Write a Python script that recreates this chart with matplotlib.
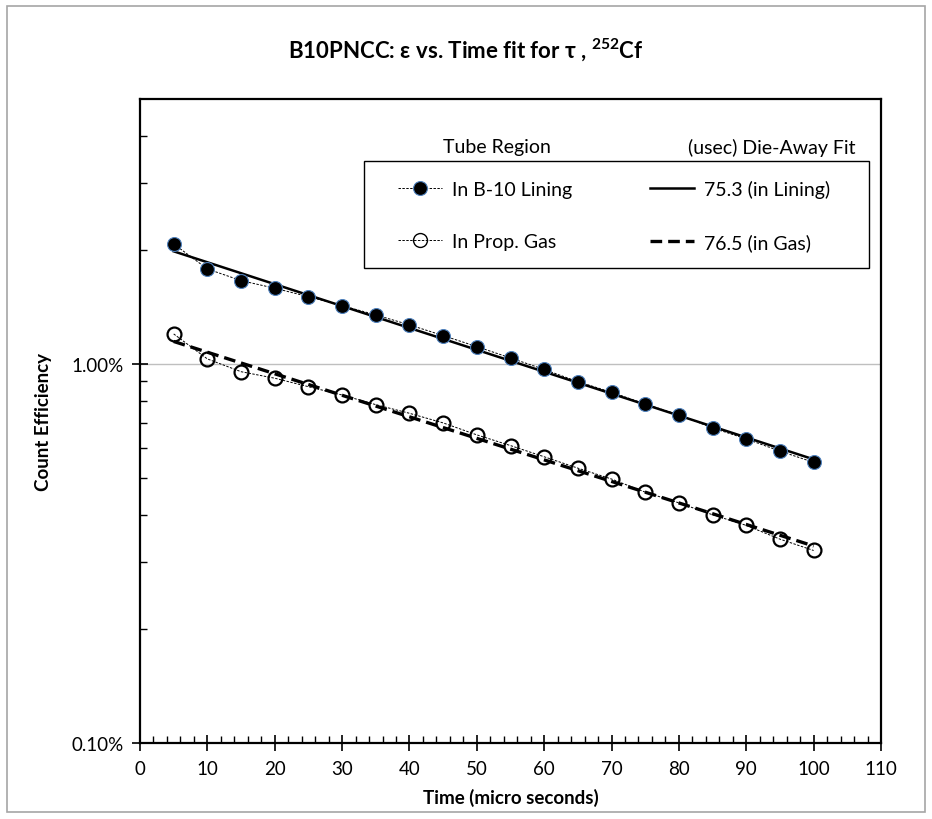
import numpy as np
import matplotlib
matplotlib.use("Agg")
import matplotlib.pyplot as plt
from matplotlib.lines import Line2D
from matplotlib.patches import Rectangle
from matplotlib.ticker import FixedLocator, NullFormatter

plt.rcParams['font.family'] = ['Lato', 'DejaVu Sans']
plt.rcParams['mathtext.fontset'] = 'custom'
plt.rcParams['mathtext.rm'] = 'Lato'
plt.rcParams['mathtext.bf'] = 'Lato:bold'

# Time points (micro seconds)
time_us = [5, 10, 15, 20, 25, 30, 35, 40, 45, 50,
           55, 60, 65, 70, 75, 80, 85, 90, 95, 100]

# Count efficiency (%)
eff_lining = [2.073, 1.781, 1.659, 1.584, 1.505, 1.425, 1.347, 1.268, 1.188, 1.111,
              1.037, 0.967, 0.898, 0.842, 0.784, 0.734, 0.678, 0.634, 0.589, 0.550]
eff_gas = [1.200, 1.031, 0.954, 0.917, 0.871, 0.828, 0.781, 0.741, 0.699, 0.650,
           0.609, 0.569, 0.531, 0.497, 0.459, 0.430, 0.400, 0.375, 0.345, 0.322]

legend_left = ['In B-10 Lining', 'In Prop. Gas']
legend_right = ['75.3 (in Lining)', '76.5 (in Gas)']

t = np.array(time_us, dtype=float)

# exponential trendlines (like Excel: linear fit of log values)
def exp_fit(y):
    slope, icpt = np.polyfit(t, np.log(y), 1)
    return np.exp(icpt + slope * t)

fit_lining = exp_fit(np.array(eff_lining))
fit_gas = exp_fit(np.array(eff_gas))

W, H = 932, 820
fig = plt.figure(figsize=(W / 100, H / 100), dpi=100)
ax = fig.add_axes([140 / W, 1 - 744 / H, 741 / W, 644 / H])

# chart area border
fig.patches.append(Rectangle((7 / W, 1 - 813 / H), 918 / W, 806 / H,
                             transform=fig.transFigure, fill=False,
                             edgecolor='#a6a6a6', linewidth=1.2))

blue_edge = '#4f81bd'
ax.plot(t, fit_lining, '-', color='black', lw=1.8, zorder=3)
ax.plot(t, fit_gas, '--', color='black', lw=2.4, dashes=(3.5, 1.8), zorder=3)
ax.plot(t, eff_lining, '--', color='black', lw=0.7, dashes=(2.5, 1.5),
        marker='o', ms=10, mfc='black', mec=blue_edge, mew=0.8, zorder=4)
ax.plot(t, eff_gas, '--', color='black', lw=0.7, dashes=(2.5, 1.5),
        marker='o', ms=10, mfc='none', mec='black', mew=1.6, zorder=4)

ax.set_yscale('log')
ax.set_ylim(0.1, 5)
ax.set_xlim(0, 110)

ax.yaxis.set_major_locator(FixedLocator([0.1, 1.0]))
ax.set_yticklabels(['0.10%', '1.00%'])
minors = [0.2, 0.3, 0.4, 0.5, 0.6, 0.7, 0.8, 0.9, 2, 3, 4]
ax.yaxis.set_minor_locator(FixedLocator(minors))
ax.yaxis.set_minor_formatter(NullFormatter())
ax.set_xticks(range(0, 111, 10))
ax.set_xticks(range(0, 111, 2), minor=True)

ax.tick_params(which='major', direction='inout', length=12, width=1.2,
               labelsize=13.5, pad=6)
ax.tick_params(which='minor', direction='in', length=5, width=1.0)
ax.tick_params(axis='y', which='both', right=False)
ax.tick_params(axis='x', which='both', top=False)

ax.axhline(1.0, color='#bfbfbf', lw=1.0, zorder=1)

for s in ax.spines.values():
    s.set_linewidth(1.6)

ax.set_xlabel('Time (micro seconds)', fontsize=13.5, fontweight='bold', labelpad=8)
ax.set_ylabel('Count Efficiency', fontsize=13.5, fontweight='bold', labelpad=14)

fig.text(0.5, 1 - 50 / H,
         r'B10PNCC: ε vs. Time fit for τ , $\mathbf{^{252}}$Cf',
         ha='center', va='center', fontsize=16, fontweight='bold')

# legend: frame drawn separately so the side padding can be wider than top/bottom
fig.patches.append(Rectangle((364 / W, 1 - 269 / H), 505 / W, 107 / H,
                             transform=fig.transFigure, facecolor='white',
                             edgecolor='black', linewidth=1.0, zorder=4))
handles = [
    Line2D([], [], color='black', lw=0.7, ls='--', dashes=(2.5, 1.5), marker='o',
           ms=10, mfc='black', mec=blue_edge, mew=0.8),
    Line2D([], [], color='black', lw=0.7, ls='--', dashes=(2.5, 1.5), marker='o',
           ms=10, mfc='none', mec='black', mew=1.0),
    Line2D([], [], color='black', lw=1.8),
    Line2D([], [], color='black', lw=2.4, ls='--', dashes=(3.5, 1.8)),
]
leg = fig.legend(handles, legend_left + legend_right, ncol=2, loc='center left',
                 bbox_to_anchor=(398 / W, 1 - 216.7 / H),
                 bbox_transform=fig.transFigure, fontsize=14, frameon=False,
                 borderpad=0, labelspacing=1.8, handlelength=2.27,
                 handletextpad=0.5, columnspacing=4.0, borderaxespad=0)

fig.text(497 / W, 1 - 148 / H, 'Tube Region', ha='center', va='center', fontsize=14)
fig.text(855 / W, 1 - 148 / H, '(usec) Die-Away Fit', ha='right', va='center',
         fontsize=14)

fig.savefig('out.png', dpi=100)
